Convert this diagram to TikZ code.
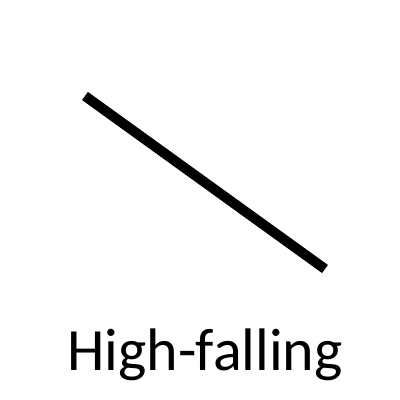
\documentclass[tikz,border=0pt]{standalone}
\usepackage{fontspec}
\setmainfont{Carlito}
\usepackage{tikz}
\usetikzlibrary{positioning}
\definecolor{tone}{HTML}{000000}

\begin{document}
\begin{tikzpicture}[x=1pt, y=-1pt]
 \useasboundingbox (0,0) rectangle (400,400);
 \coordinate (hi) at (85,96);
 \coordinate (lo) at (325,269);
 \draw[tone, line width=10pt] (hi) -- (lo);
 \node[anchor=base, inner sep=0pt, font=\fontsize{60}{70}\selectfont] (lbl) at (205,370) {High-falling};
\end{tikzpicture}
\end{document}
